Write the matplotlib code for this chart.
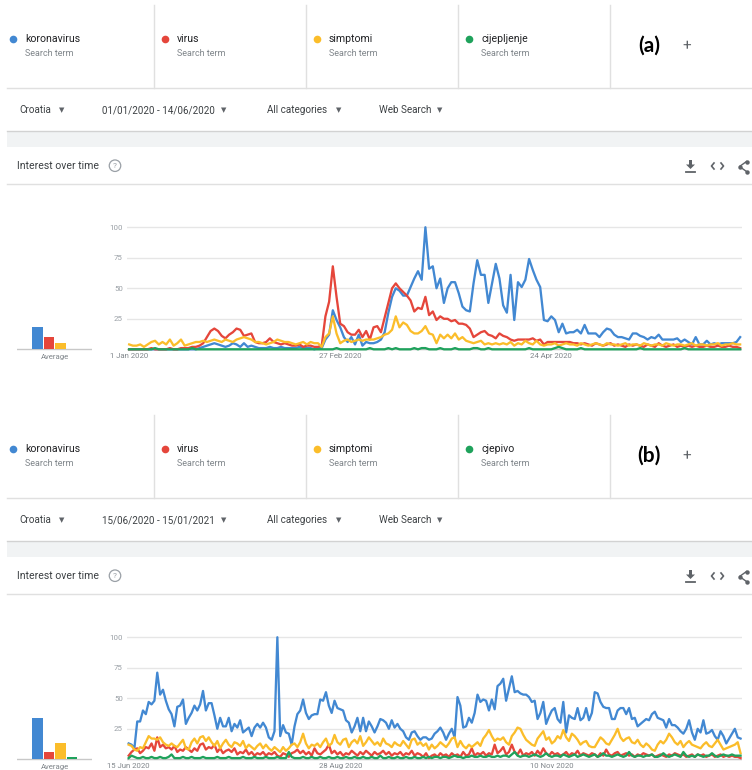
import pandas as pd
import matplotlib
matplotlib.use("Agg")
import matplotlib.pyplot as plt
from matplotlib.lines import Line2D
from matplotlib.patches import Rectangle, Polygon, Ellipse

plt.rcParams["font.family"] = ["Roboto", "DejaVu Sans"]

# ==== data ====
terms_a = ["koronavirus", "virus", "simptomi", "cijepljenje"]
terms_b = ["koronavirus", "virus", "simptomi", "cjepivo"]
colors = ["#4288d2", "#e5463b", "#fbbd2a", "#1fa25c"]

country = "Croatia"
range_a = "01/01/2020 - 14/06/2020"
range_b = "15/06/2020 - 15/01/2021"
start_a = "2020-01-01"
start_b = "2020-06-15"
ticks_a = ["2020-01-01", "2020-02-27", "2020-04-24"]
ticks_b = ["2020-06-15", "2020-08-28", "2020-11-10"]
ticklabels_a = ["1 Jan 2020", "27 Feb 2020", "24 Apr 2020"]
ticklabels_b = ["15 Jun 2020", "28 Aug 2020", "10 Nov 2020"]
yticklabels = ["", "25", "50", "75", "100"]

avg_a = [18, 10, 5, 0]
avg_b = [34, 6, 13, 2]

# daily values, 1 Jan 2020 - 14 Jun 2020
koronavirus_a = [
    0, 0, 0, 0, 0, 0, 0, 0, 0, 0,
    0, 0, 0, 0, 0, 0, 0, 0, 0, 1,
    2, 3, 4, 5, 4, 3, 2, 3, 5, 4,
    2, 5, 2, 3, 2, 1, 1, 1, 2, 1,
    1, 2, 1, 1, 1, 1, 2, 1, 1, 1,
    0, 1, 1, 8, 12, 32, 24, 18, 10, 6,
    10, 4, 12, 3, 6, 5, 5, 6, 8, 14,
    30, 43, 50, 48, 44, 44, 51, 58, 64, 57,
    100, 66, 68, 50, 58, 38, 50, 55, 55, 46,
    35, 32, 31, 54, 73, 61, 61, 38, 54, 70,
    58, 36, 30, 61, 24, 55, 51, 57, 74, 65,
    57, 51, 24, 23, 27, 24, 14, 21, 13, 14,
    14, 16, 13, 20, 13, 13, 13, 10, 14, 17,
    16, 12, 10, 10, 9, 8, 13, 13, 11, 10,
    8, 10, 9, 12, 8, 8, 8, 8, 9, 6,
    8, 6, 4, 10, 4, 4, 7, 4, 5, 4,
    5, 5, 5, 5, 6, 10]
virus_a = [
    0, 0, 0, 0, 0, 0, 1, 0, 0, 0,
    0, 1, 0, 0, 1, 1, 1, 2, 2, 3,
    5, 10, 15, 17, 15, 11, 9, 12, 14, 17,
    16, 11, 12, 13, 6, 5, 5, 6, 9, 6,
    5, 4, 5, 4, 3, 3, 4, 2, 3, 3,
    2, 2, 3, 27, 39, 68, 43, 21, 19, 14,
    12, 12, 16, 10, 15, 8, 18, 19, 14, 26,
    38, 50, 54, 50, 47, 44, 40, 31, 34, 33,
    43, 28, 31, 24, 27, 25, 25, 23, 24, 21,
    21, 20, 17, 10, 12, 14, 15, 12, 11, 9,
    13, 11, 10, 8, 7, 8, 8, 8, 8, 9,
    7, 8, 4, 6, 6, 6, 6, 6, 6, 6,
    5, 5, 4, 5, 4, 3, 5, 4, 3, 4,
    5, 3, 4, 3, 2, 4, 3, 4, 3, 2,
    4, 3, 2, 5, 3, 2, 3, 4, 2, 3,
    2, 3, 2, 3, 2, 2, 3, 2, 2, 3,
    2, 2, 3, 2, 2, 1]
simptomi_a = [
    4, 3, 3, 4, 2, 4, 6, 7, 4, 6,
    4, 8, 3, 5, 8, 3, 4, 5, 6, 6,
    7, 6, 7, 8, 7, 6, 8, 7, 6, 8,
    9, 10, 9, 8, 6, 6, 5, 4, 5, 6,
    8, 7, 6, 6, 5, 4, 5, 6, 4, 6,
    5, 5, 2, 10, 13, 27, 13, 5, 7, 8,
    6, 7, 8, 7, 8, 8, 8, 9, 10, 12,
    13, 16, 27, 18, 22, 20, 15, 13, 13, 15,
    19, 13, 12, 5, 12, 9, 12, 9, 13, 8,
    10, 7, 6, 5, 6, 7, 4, 5, 4, 5,
    4, 5, 4, 6, 3, 5, 4, 7, 5, 4,
    7, 4, 3, 4, 4, 5, 3, 4, 5, 4,
    4, 3, 5, 4, 3, 4, 5, 4, 3, 5,
    4, 4, 3, 4, 5, 3, 4, 4, 3, 5,
    4, 3, 4, 4, 3, 5, 4, 3, 4, 4,
    3, 4, 5, 3, 4, 4, 3, 4, 4, 5,
    3, 4, 4, 5, 4, 4]
cijepljenje_a = [
    0, 0, 0, 0, 0, 0, 0, 1, 0, 0,
    0, 0, 0, 0, 0, 0, 0, 1, 0, 0,
    0, 0, 0, 0, 0, 0, 0, 0, 0, 0,
    0, 0, 0, 0, 0, 0, 0, 0, 0, 0,
    0, 0, 0, 0, 0, 0, 0, 0, 0, 0,
    0, 0, 0, 0, 0, 0, 1, 0, 0, 0,
    0, 0, 0, 0, 0, 1, 0, 0, 0, 0,
    1, 0, 1, 0, 0, 0, 0, 1, 0, 1,
    1, 0, 0, 0, 1, 0, 0, 0, 1, 0,
    0, 0, 0, 1, 1, 0, 0, 1, 0, 0,
    0, 0, 0, 0, 0, 0, 0, 0, 1, 0,
    0, 0, 0, 0, 0, 1, 2, 1, 0, 0,
    0, 0, 1, 0, 0, 0, 0, 0, 0, 0,
    0, 0, 0, 0, 0, 0, 0, 0, 1, 0,
    0, 0, 0, 0, 0, 0, 0, 0, 0, 0,
    1, 0, 0, 0, 0, 0, 0, 0, 0, 0,
    0, 0, 0, 0, 0, 0]

# daily values, 15 Jun 2020 - 15 Jan 2021
koronavirus_b = [
    13, 12, 9, 31, 31, 40, 37, 47, 45, 48,
    71, 53, 57, 48, 41, 37, 27, 43, 44, 49,
    29, 34, 38, 44, 40, 45, 56, 40, 46, 46,
    36, 25, 34, 27, 27, 34, 23, 29, 26, 32,
    22, 24, 26, 19, 26, 29, 26, 30, 26, 18,
    16, 23, 100, 19, 28, 22, 21, 12, 27, 37,
    40, 49, 38, 33, 36, 37, 37, 49, 48, 55,
    44, 38, 48, 42, 41, 40, 32, 30, 22, 27,
    34, 23, 34, 23, 31, 27, 22, 27, 33, 32,
    30, 25, 32, 26, 29, 25, 23, 18, 16, 22,
    23, 19, 16, 18, 18, 16, 17, 21, 23, 26,
    22, 16, 21, 25, 18, 51, 44, 26, 27, 34,
    30, 38, 53, 47, 49, 48, 40, 49, 41, 60,
    62, 66, 48, 58, 68, 55, 56, 54, 53, 53,
    51, 47, 48, 33, 38, 47, 29, 35, 40, 42,
    33, 30, 47, 22, 36, 34, 33, 42, 32, 34,
    42, 32, 38, 55, 54, 47, 43, 42, 42, 33,
    33, 40, 42, 42, 37, 42, 33, 34, 27, 29,
    31, 33, 32, 37, 39, 34, 33, 32, 26, 33,
    28, 28, 26, 23, 21, 25, 32, 22, 16, 25,
    22, 32, 21, 22, 24, 19, 16, 23, 19, 13,
    17, 21, 25, 18, 17]
virus_b = [
    3, 6, 8, 9, 5, 7, 10, 9, 13, 7,
    18, 10, 12, 9, 10, 8, 11, 6, 8, 7,
    10, 8, 6, 9, 7, 12, 13, 8, 10, 9,
    12, 6, 9, 5, 7, 8, 6, 9, 4, 6,
    5, 8, 4, 6, 3, 5, 4, 6, 3, 5,
    4, 6, 3, 2, 5, 4, 2, 5, 6, 8,
    5, 7, 4, 6, 3, 9, 5, 4, 6, 8,
    12, 5, 7, 4, 6, 3, 5, 4, 7, 5,
    3, 6, 4, 7, 5, 3, 6, 4, 5, 7,
    4, 6, 3, 5, 4, 6, 3, 5, 4, 7,
    3, 5, 4, 2, 5, 1, 3, 4, 2, 5,
    3, 4, 2, 5, 3, 4, 2, 6, 3, 4,
    9, 3, 5, 4, 6, 3, 5, 4, 12, 5,
    7, 10, 4, 6, 12, 6, 4, 8, 3, 5,
    4, 6, 3, 7, 4, 9, 5, 3, 6, 4,
    5, 3, 4, 6, 3, 5, 4, 7, 3, 5,
    4, 3, 5, 4, 2, 5, 3, 8, 4, 3,
    5, 6, 3, 4, 5, 3, 4, 2, 4, 3,
    5, 4, 3, 4, 2, 3, 4, 3, 2, 4,
    3, 5, 4, 3, 4, 2, 3, 4, 2, 4,
    3, 4, 2, 3, 4, 2, 3, 4, 2, 3,
    2, 3, 2, 2, 1]
simptomi_b = [
    12, 11, 8, 7, 10, 9, 14, 19, 17, 17,
    16, 18, 14, 12, 11, 13, 11, 10, 13, 16,
    9, 8, 14, 17, 13, 18, 19, 15, 18, 14,
    11, 15, 9, 13, 16, 12, 10, 14, 13, 11,
    15, 9, 12, 10, 8, 11, 13, 9, 12, 9,
    7, 10, 8, 6, 10, 7, 9, 12, 13, 10,
    14, 21, 13, 9, 12, 11, 13, 10, 14, 17,
    11, 13, 20, 14, 12, 16, 17, 10, 14, 16,
    13, 19, 11, 14, 18, 15, 12, 14, 11, 17,
    13, 12, 10, 14, 12, 11, 15, 12, 9, 16,
    17, 12, 14, 11, 13, 8, 12, 9, 11, 14,
    12, 10, 13, 17, 18, 10, 15, 11, 9, 12,
    10, 12, 14, 11, 17, 20, 24, 19, 15, 17,
    16, 18, 14, 12, 19, 22, 26, 25, 20, 16,
    14, 12, 11, 17, 20, 23, 16, 18, 13, 15,
    19, 17, 24, 18, 15, 21, 19, 16, 12, 14,
    15, 11, 10, 10, 14, 18, 16, 13, 12, 16,
    20, 25, 18, 15, 17, 18, 14, 13, 16, 12,
    10, 13, 11, 8, 7, 12, 15, 13, 16, 21,
    18, 14, 12, 15, 10, 13, 15, 12, 11, 10,
    9, 12, 14, 11, 10, 13, 16, 12, 8, 9,
    10, 11, 12, 14, 5]
cjepivo_b = [
    1, 3, 2, 1, 1, 2, 1, 1, 2, 1,
    1, 2, 1, 1, 2, 4, 1, 1, 1, 2,
    1, 1, 2, 1, 1, 1, 2, 1, 1, 1,
    1, 2, 1, 1, 1, 2, 1, 1, 1, 1,
    2, 1, 1, 1, 2, 1, 1, 1, 2, 1,
    1, 1, 2, 1, 1, 1, 6, 2, 1, 1,
    1, 2, 1, 1, 2, 1, 1, 2, 1, 1,
    2, 1, 1, 2, 1, 1, 2, 1, 1, 2,
    1, 1, 2, 1, 1, 2, 1, 1, 3, 1,
    1, 2, 1, 1, 2, 1, 1, 2, 1, 1,
    2, 1, 1, 2, 1, 2, 1, 2, 2, 1,
    2, 2, 1, 2, 3, 2, 2, 1, 2, 2,
    3, 2, 2, 3, 2, 2, 3, 2, 2, 3,
    2, 3, 3, 2, 4, 6, 3, 2, 3, 3,
    2, 3, 4, 3, 2, 3, 5, 3, 2, 3,
    3, 2, 4, 3, 2, 3, 4, 2, 3, 4,
    3, 2, 3, 4, 2, 3, 5, 3, 3, 2,
    3, 4, 3, 2, 3, 6, 3, 2, 3, 3,
    2, 3, 3, 4, 2, 2, 3, 5, 3, 2,
    3, 4, 3, 2, 6, 3, 2, 3, 2, 4,
    3, 2, 3, 3, 5, 3, 2, 3, 4, 3,
    3, 4, 3, 3, 3]

# ==== figure helpers (pixel positions of the screenshot) ====
W, H = 752, 770
fig = plt.figure(figsize=(W / 100, H / 100), dpi=100)
fig.patch.set_facecolor("white")

GREY_LINE = "#e0e0e0"
ICON = "#5f6368"


def fx(x):
    return x / W


def fy(y):
    return 1 - y / H


def text(x, y, s, **kw):
    kw.setdefault("va", "center")
    fig.text(fx(x), fy(y), s, **kw)


def hline(x0, x1, y, color=GREY_LINE, lw=1.0):
    fig.add_artist(Line2D([fx(x0), fx(x1)], [fy(y), fy(y)], color=color, lw=lw))


def pline(xs, ys, color=ICON, lw=1.2, **kw):
    fig.add_artist(Line2D([fx(x) for x in xs], [fy(y) for y in ys],
                          color=color, lw=lw, **kw))


def axes_px(x0, y0, x1, y1):
    return fig.add_axes([fx(x0), fy(y1), (x1 - x0) / W, (y1 - y0) / H])


def draw_panel(off, terms, label, date_range, series, start, ticks, ticklabels, avg):
    # ---- search term header ----
    for x in [154, 306, 458, 610]:
        pline([x, x], [off + 5, off + 88], color=GREY_LINE, lw=1.0)
    hline(7, W, off + 88)
    for i, term in enumerate(terms):
        x0 = 13 + 152 * i
        pline([x0], [off + 39], color=colors[i], marker="o", ms=5.5, mec="none")
        text(x0 + 12, off + 39, term, fontsize=7.6, color="#202124")
        text(x0 + 12, off + 54, "Search term", fontsize=6.5, color="#80868b")
    text(649, off + 46, label, fontsize=15, fontweight="bold", family="Lato",
         ha="center", color="black")
    text(687, off + 46, "+", fontsize=11, color=ICON, ha="center")

    # ---- filter row ----
    for x, s in zip([19, 102, 267, 379],
                    [country, date_range, "All categories", "Web Search"]):
        text(x, off + 110, s, fontsize=7.1, color="#3c4043")
    for x in [62, 224, 339, 440]:
        text(x, off + 110, "\u25bc", fontsize=5, color=ICON, ha="center",
             family="DejaVu Sans")

    # grey gap between cards
    fig.add_artist(Rectangle((fx(7), fy(off + 147)), (W - 7) / W, 16 / H,
                             facecolor="#f1f3f4", edgecolor="none"))
    hline(7, W, off + 131, color="#d2d2d2")

    # ---- card title ----
    text(17, off + 165.7, "Interest over time", fontsize=7.6, color="#3c4043")
    fig.add_artist(Ellipse((fx(115), fy(off + 165.7)), 11.5 / W, 11.5 / H,
                           facecolor="none", edgecolor="#9aa0a6", lw=0.9))
    text(115, off + 165.9, "?", fontsize=6, color="#9aa0a6", ha="center")
    hline(7, W, off + 184)

    # download icon
    fig.add_artist(Polygon([(fx(689), fy(off + 160)), (fx(692), fy(off + 160)),
                            (fx(692), fy(off + 164.5)), (fx(695), fy(off + 164.5)),
                            (fx(690.5), fy(off + 169)), (fx(686), fy(off + 164.5)),
                            (fx(689), fy(off + 164.5))],
                           closed=True, facecolor=ICON, edgecolor="none"))
    pline([686, 695], [off + 171.5, off + 171.5], lw=1.3)
    # embed icon
    pline([714, 711.5, 714], [off + 163, off + 166, off + 169])
    pline([721, 723.5, 721], [off + 163, off + 166, off + 169])
    # share icon
    pline([746.5, 739.5, 746.5], [off + 161.5, off + 166.5, off + 171.5],
          lw=1.0, marker="o", ms=3.2, mec="none")

    # ---- line chart ----
    ylim = (-2.2, 104.3)
    ax = axes_px(127, off + 222, 742, off + 352)
    x = pd.date_range(start, periods=len(series[0]), freq="D")
    for s, c in zip(series, colors):
        ax.plot(x, s, color=c, lw=1.65, solid_joinstyle="round", zorder=3)
    ax.axhline(0, color="#c8c8c8", lw=1.0, zorder=2)
    ax.set_xlim(x[0] - pd.Timedelta(hours=14), x[-1] + pd.Timedelta(hours=12))
    ax.set_ylim(*ylim)
    ax.set_yticks([0, 25, 50, 75, 100])
    ax.set_yticklabels(yticklabels)
    ax.set_xticks(pd.to_datetime(ticks))
    ax.set_xticklabels(ticklabels)
    ax.tick_params(axis="y", length=0, pad=3, labelsize=5.7, labelcolor="#9aa0a6")
    ax.tick_params(axis="x", length=0, pad=0.8, labelsize=5.6, labelcolor="#80868b")
    ax.yaxis.grid(True, color="#e6e6e6", lw=1.0)
    ax.set_axisbelow(True)
    for sp in ax.spines.values():
        sp.set_visible(False)
    ax.patch.set_alpha(0)

    # ---- average bars ----
    bx = axes_px(17, off + 222, 92, off + 352)
    bx.bar(range(4), avg, width=0.92, color=colors, zorder=3)
    bx.axhline(0, color="#c8c8c8", lw=1.0, zorder=2)
    bx.set_xlim(-1.78, 4.74)
    bx.set_ylim(*ylim)
    bx.axis("off")
    text(55, off + 356.7, "Average", fontsize=5.6, color="#80868b", ha="center")


draw_panel(0, terms_a, "(a)", range_a,
           [koronavirus_a, virus_a, simptomi_a, cijepljenje_a],
           start_a, ticks_a, ticklabels_a, avg_a)
draw_panel(410, terms_b, "(b)", range_b,
           [koronavirus_b, virus_b, simptomi_b, cjepivo_b],
           start_b, ticks_b, ticklabels_b, avg_b)

fig.savefig("out.png", dpi=100, facecolor="white")
